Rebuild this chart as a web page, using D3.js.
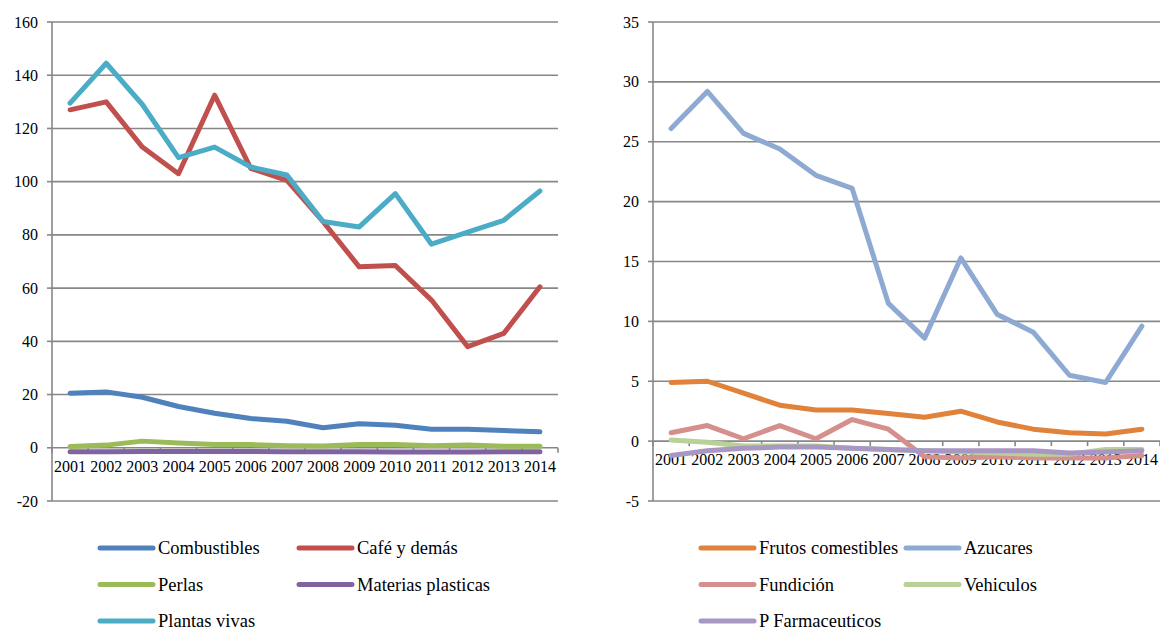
<!DOCTYPE html>
<html>
<head>
<meta charset="utf-8">
<script src="https://cdn.jsdelivr.net/npm/d3@7"></script>
<style>
  html, body { margin: 0; padding: 0; background: #fff; }
  svg { display: block; }
  text { font-family: "Liberation Serif", "Times New Roman", "Liberation Sans", serif; fill: #000; }
</style>
</head>
<body>
<svg id="chart" width="1160" height="631"></svg>
<script>
const years = ["2001","2002","2003","2004","2005","2006","2007","2008","2009","2010","2011","2012","2013","2014"];

// Left panel series
const leftNames = ["Combustibles", "Café y demás", "Perlas", "Materias plasticas", "Plantas vivas"];
const combustibles = [20.5, 21, 19, 15.5, 13, 11, 10, 7.5, 9, 8.5, 7, 7, 6.5, 6];
const cafe = [127, 130, 113, 103, 132.5, 105, 100.5, 85, 68, 68.5, 55.5, 38, 43, 60.5];
const perlas = [0.5, 1, 2.5, 1.8, 1.2, 1.2, 0.8, 0.7, 1.2, 1.2, 0.8, 1.0, 0.6, 0.6];
const materias = [-1.5, -1.5, -1.4, -1.4, -1.4, -1.4, -1.5, -1.5, -1.5, -1.6, -1.6, -1.6, -1.5, -1.5];
const plantas = [129.5, 144.5, 129, 109, 113, 105.5, 102.5, 85, 83, 95.5, 76.5, 81, 85.5, 96.5];
const leftTicks = [-20, 0, 20, 40, 60, 80, 100, 120, 140, 160];

// Right panel series
const rightNames = ["Frutos comestibles", "Azucares", "Fundición", "Vehiculos", "P Farmaceuticos"];
const frutos = [4.9, 5.0, 4.0, 3.0, 2.6, 2.6, 2.3, 2.0, 2.5, 1.6, 1.0, 0.7, 0.6, 1.0];
const azucares = [26.1, 29.2, 25.7, 24.4, 22.2, 21.1, 11.5, 8.6, 15.3, 10.6, 9.1, 5.5, 4.9, 9.6];
const fundicion = [0.7, 1.3, 0.2, 1.3, 0.2, 1.8, 1.0, -1.3, -1.4, -1.3, -1.4, -1.4, -1.4, -1.2];
const vehiculos = [0.1, -0.1, -0.4, -0.4, -0.4, -0.6, -0.7, -0.8, -0.9, -1.0, -1.1, -1.1, -0.7, -0.7];
const farmaceuticos = [-1.2, -0.8, -0.6, -0.5, -0.5, -0.6, -0.7, -0.8, -0.8, -0.8, -0.8, -1.0, -0.9, -0.8];
const rightTicks = [-5, 0, 5, 10, 15, 20, 25, 30, 35];

const leftColors = ["#4F81BD", "#C0504D", "#9BBB59", "#8064A2", "#4BACC6"];
const rightColors = ["#E0823A", "#8FAAD2", "#D58F8D", "#B9D196", "#A897C2"];

const svg = d3.select("#chart");
const gridColor = "#878787";

function panel(cfg) {
  const x = d3.scaleBand().domain(years).range([cfg.x0, cfg.x1]);
  const y = d3.scaleLinear().domain([cfg.ticks[0], cfg.ticks[cfg.ticks.length - 1]]).range([501, 22]);
  const g = svg.append("g");

  // gridlines
  g.selectAll("line.grid").data(cfg.ticks).enter().append("line")
    .attr("x1", cfg.x0).attr("x2", cfg.x1)
    .attr("y1", d => y(d)).attr("y2", d => y(d))
    .attr("stroke", gridColor).attr("stroke-width", 1.6);

  // value axis
  g.append("line")
    .attr("x1", cfg.x0).attr("x2", cfg.x0)
    .attr("y1", y(cfg.ticks[0])).attr("y2", y(cfg.ticks[cfg.ticks.length - 1]))
    .attr("stroke", gridColor).attr("stroke-width", 1.6);
  g.selectAll("line.ytick").data(cfg.ticks).enter().append("line")
    .attr("x1", cfg.x0 - 5).attr("x2", cfg.x0)
    .attr("y1", d => y(d)).attr("y2", d => y(d))
    .attr("stroke", gridColor).attr("stroke-width", 1.6);
  g.selectAll("text.ylab").data(cfg.ticks).enter().append("text")
    .attr("x", cfg.x0 - 14).attr("y", d => y(d)).attr("dy", "0.35em")
    .attr("text-anchor", "end").attr("font-size", 16)
    .text(d => d);

  // category axis at zero
  const y0 = y(0);
  const bounds = years.map(d => x(d)).concat([x(years[years.length - 1]) + x.bandwidth()]);
  g.selectAll("line.xtick").data(bounds).enter().append("line")
    .attr("x1", d => d).attr("x2", d => d)
    .attr("y1", y0).attr("y2", y0 + 5)
    .attr("stroke", gridColor).attr("stroke-width", 1.6);
  g.selectAll("text.xlab").data(years).enter().append("text")
    .attr("x", d => x(d) + x.bandwidth() / 2).attr("y", y0 + 24)
    .attr("text-anchor", "middle").attr("font-size", 16)
    .text(d => d);

  // series
  const line = d3.line().x((d, i) => x(years[i]) + x.bandwidth() / 2).y(d => y(d));
  cfg.series.forEach((s, i) => {
    g.append("path").attr("d", line(s))
      .attr("fill", "none").attr("stroke", cfg.colors[i]).attr("stroke-width", 5)
      .attr("stroke-linejoin", "round").attr("stroke-linecap", "round");
  });

  // legend
  const lg = svg.append("g");
  cfg.names.forEach((n, i) => {
    const col = i % 2, row = Math.floor(i / 2);
    const lx = cfg.legendX[col];
    const ly = 548 + row * 36.5;
    lg.append("line").attr("x1", lx).attr("x2", lx + 53).attr("y1", ly).attr("y2", ly)
      .attr("stroke", cfg.colors[i]).attr("stroke-width", 5).attr("stroke-linecap", "round");
    lg.append("text").attr("x", lx + 58).attr("y", ly).attr("dy", "0.35em")
      .attr("font-size", 18.5).text(n);
  });
}

panel({
  x0: 52, x1: 558, ticks: leftTicks,
  series: [combustibles, cafe, perlas, materias, plantas],
  colors: leftColors, names: leftNames, legendX: [100, 299]
});
panel({
  x0: 653, x1: 1160, ticks: rightTicks,
  series: [frutos, azucares, fundicion, vehiculos, farmaceuticos],
  colors: rightColors, names: rightNames, legendX: [701, 906]
});
</script>
</body>
</html>
